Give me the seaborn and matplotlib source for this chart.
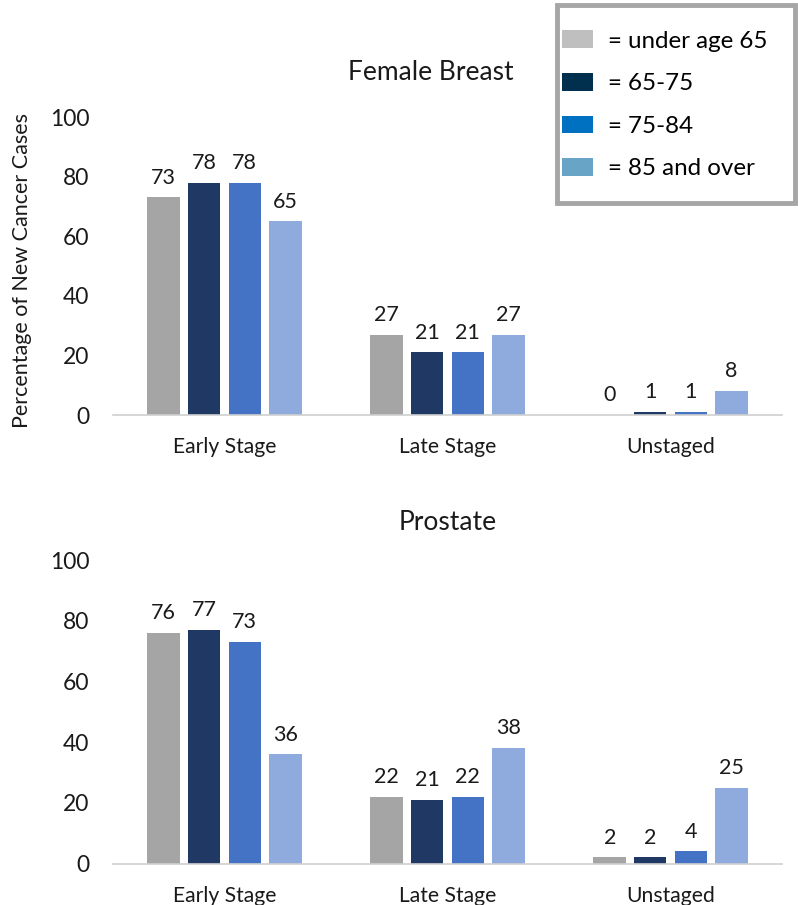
import matplotlib
matplotlib.use("Agg")
import matplotlib.pyplot as plt
from matplotlib.patches import Patch, Rectangle
import seaborn as sns
import pandas as pd

stages = ["Early Stage", "Late Stage", "Unstaged"]
age_groups = ["under age 65", "65-75", "75-84", "85 and over"]

breast_early = [73, 78, 78, 65]
breast_late = [27, 21, 21, 27]
breast_unstaged = [0, 1, 1, 8]

prostate_early = [76, 77, 73, 36]
prostate_late = [22, 21, 22, 38]
prostate_unstaged = [2, 2, 4, 25]

bar_colors = ["#A5A5A5", "#203864", "#4472C4", "#8FAADC"]
legend_colors = ["#BFBFBF", "#00304E", "#0070C0", "#68A4C6"]
legend_labels = ["= under age 65", "= 65-75", "= 75-84", "= 85 and over"]
yticks = [0, 20, 40, 60, 80, 100]


def make_df(early, late, unstaged):
    rows = []
    for stage, vals in zip(stages, [early, late, unstaged]):
        for age, v in zip(age_groups, vals):
            rows.append({"stage": stage, "age": age, "pct": v})
    return pd.DataFrame(rows)


sns.set_theme(style="white")
plt.rcParams["font.family"] = ["Lato", "DejaVu Sans"]
TXT = "#1a1a1a"

W, H = 798, 905
fig = plt.figure(figsize=(W / 100, H / 100), dpi=100)

ax_top = fig.add_axes([113 / W, 1 - 415 / H, (782 - 113) / W, (415 - 117) / H])
ax_bot = fig.add_axes([113 / W, 1 - 863.5 / H, (782 - 113) / W, (863.5 - 560) / H])

for ax, df in [(ax_top, make_df(breast_early, breast_late, breast_unstaged)),
               (ax_bot, make_df(prostate_early, prostate_late, prostate_unstaged))]:
    sns.barplot(data=df, x="stage", y="pct", hue="age", hue_order=age_groups,
                palette=bar_colors, saturation=1, width=0.727, gap=0.2,
                linewidth=0, legend=False, ax=ax)
    for cont in ax.containers:
        ax.bar_label(cont, fmt="%g", padding=7, fontsize=15.5, color=TXT)
    ax.set_ylim(0, 100)
    ax.set_xlim(-0.5, 2.5)
    ax.set_yticks(yticks)
    ax.set_xlabel("")
    ax.set_ylabel("")
    for s in ["top", "right", "left"]:
        ax.spines[s].set_visible(False)
    ax.spines["bottom"].set_color("#D0D0D0")
    ax.spines["bottom"].set_linewidth(1.2)
    ax.tick_params(axis="y", length=0, pad=17, labelsize=16.5, labelcolor=TXT)
    ax.tick_params(axis="x", length=0, pad=16, labelsize=15.2, labelcolor=TXT)
    ax.grid(False)

fig.text(431 / W, 1 - 73 / H, "Female Breast", ha="center", va="center",
         fontsize=19, color=TXT)
fig.text(448 / W, 1 - 522 / H, "Prostate", ha="center", va="center",
         fontsize=19, color=TXT)
fig.text(22 / W, 1 - 270 / H, "Percentage of New Cancer Cases", ha="center",
         va="center", rotation=90, fontsize=15.5, color=TXT)

handles = [Patch(facecolor=c, edgecolor="none") for c in legend_colors]
fig.legend(handles=handles, labels=legend_labels, loc="upper left",
           bbox_to_anchor=(562 / W, 1 - 30.5 / H), frameon=False, fontsize=17.4,
           handlelength=1.28, handleheight=0.75, handletextpad=0.62,
           labelspacing=0.88, borderpad=0, borderaxespad=0, labelcolor="black")
fig.patches.append(Rectangle((557 / W, 1 - 203 / H), (795 - 557) / W, (203 - 5) / H,
                             transform=fig.transFigure, fill=False,
                             edgecolor="#A6A6A6", linewidth=3.5))

fig.savefig("out.png", dpi=100, facecolor="white")
